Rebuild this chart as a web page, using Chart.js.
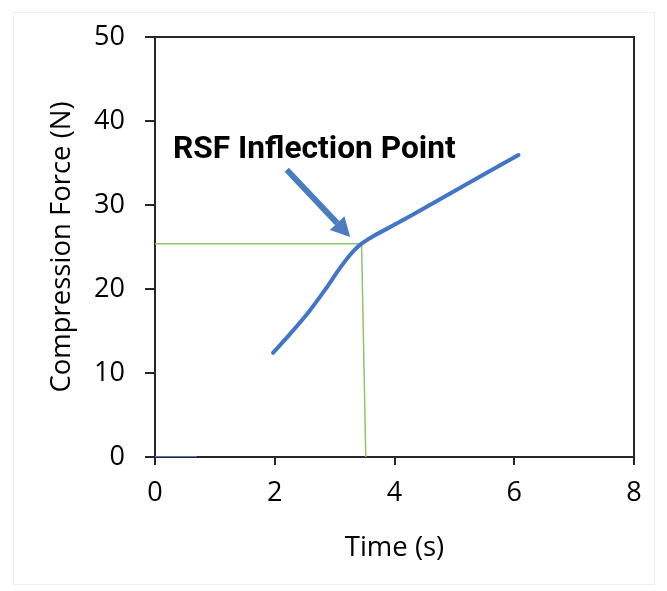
<!DOCTYPE html>
<html>
<head>
<meta charset="utf-8">
<script src="https://cdn.jsdelivr.net/npm/chart.js@4"></script>
<style>
    html, body { margin: 0; padding: 0; background: #fff; }
    #wrap { width: 667px; height: 591px; }
</style>
</head>
<body>
<div id="wrap"><canvas id="chart" width="667" height="591"></canvas></div>
<script>
/** Data */
const time = [1.97, 2.25, 2.55, 2.85, 3.1, 3.3, 3.45, 3.65, 4.09, 4.59, 5.43, 6.07];
const force = [12.4, 14.6, 17.1, 20.0, 22.6, 24.4, 25.4, 26.3, 28.0, 30.0, 33.4, 35.95];
const baseTime = [0, 0.7];
const baseForce = [0, 0];
const guideTime = [0, 3.45, 3.52];
const guideForce = [25.4, 25.4, 0];
const xTicks = [0, 2, 4, 6, 8];
const yTicks = [0, 10, 20, 30, 40, 50];
const labelText = 'RSF Inflection Point';
const labelAt = { x: 0.3, y: 35.6 };
const arrowFrom = { x: 2.2, y: 34.2 };
const arrowTo = { x: 3.26, y: 26.2 };

const toPoints = (xs, ys) => xs.map((x, i) => ({ x: x, y: ys[i] }));

/** Frame + annotation */
const extras = {
    id: 'extras',
    beforeDraw: function (chart) {
        const ctx = chart.ctx;
        ctx.save();
        ctx.strokeStyle = '#eeeeee';
        ctx.lineWidth = 1;
        ctx.strokeRect(13.5, 12.5, 641, 572);
        ctx.restore();
    },
    afterDraw: function (chart) {
        const ctx = chart.ctx;
        const a = chart.chartArea;
        const xs = chart.scales.x, ys = chart.scales.y;
        ctx.save();
        // top + right frame
        ctx.strokeStyle = '#262626';
        ctx.lineWidth = 2;
        ctx.beginPath();
        ctx.moveTo(a.left, a.top);
        ctx.lineTo(a.right, a.top);
        ctx.lineTo(a.right, a.bottom);
        ctx.stroke();

        // arrow
        const x1 = xs.getPixelForValue(arrowFrom.x), y1 = ys.getPixelForValue(arrowFrom.y);
        const x2 = xs.getPixelForValue(arrowTo.x), y2 = ys.getPixelForValue(arrowTo.y);
        const ang = Math.atan2(y2 - y1, x2 - x1);
        const headLen = 19, headW = 10;
        const bx = x2 - headLen * Math.cos(ang), by = y2 - headLen * Math.sin(ang);
        ctx.strokeStyle = '#4a7cbf';
        ctx.fillStyle = '#4a7cbf';
        ctx.lineWidth = 6;
        ctx.beginPath();
        ctx.moveTo(x1, y1);
        ctx.lineTo(bx, by);
        ctx.stroke();
        ctx.beginPath();
        ctx.moveTo(x2, y2);
        ctx.lineTo(bx + headW * Math.sin(ang), by - headW * Math.cos(ang));
        ctx.lineTo(bx - headW * Math.sin(ang), by + headW * Math.cos(ang));
        ctx.closePath();
        ctx.fill();

        // label
        ctx.fillStyle = '#000';
        ctx.font = 'bold 31.7px Roboto';
        ctx.textBaseline = 'alphabetic';
        ctx.textAlign = 'left';
        ctx.fillText(labelText, xs.getPixelForValue(labelAt.x), ys.getPixelForValue(labelAt.y));
        ctx.restore();
    }
};

const tickFont = { family: 'Open Sans', size: 27 };
const titleFont = { family: 'Open Sans', size: 27.5 };

new Chart(document.getElementById('chart'), {
    type: 'scatter',
    data: {
        datasets: [{
            data: toPoints(guideTime, guideForce),
            showLine: true,
            borderColor: '#8cc66a',
            borderWidth: 1.5,
            pointRadius: 0,
            order: 2
        }, {
            data: toPoints(baseTime, baseForce),
            showLine: true,
            borderColor: '#4a78c6',
            borderWidth: 2,
            pointRadius: 0,
            order: 1
        }, {
            data: toPoints(time, force),
            showLine: true,
            borderColor: '#4275c9',
            borderWidth: 4,
            borderCapStyle: 'round',
            tension: 0.35,
            pointRadius: 0,
            order: 0
        }]
    },
    options: {
        responsive: false,
        animation: false,
        layout: { padding: { left: 46, top: 37, right: 33, bottom: 26 } },
        plugins: { legend: { display: false }, tooltip: { enabled: false } },
        scales: {
            x: {
                type: 'linear',
                min: 0, max: 8,
                afterBuildTicks: function (s) { s.ticks = xTicks.map(v => ({ value: v })); },
                afterFit: function (s) { s.height = 108; },
                grid: { drawOnChartArea: false, tickLength: 8, color: '#262626', lineWidth: 2 },
                border: { color: '#262626', width: 2 },
                ticks: { color: '#000', font: tickFont, padding: 12, maxRotation: 0 },
                title: { display: true, text: 'Time (s)', color: '#000', font: titleFont, padding: 0 }
            },
            y: {
                type: 'linear',
                min: 0, max: 50,
                afterBuildTicks: function (s) { s.ticks = yTicks.map(v => ({ value: v })); },
                afterFit: function (s) { s.width = 109; },
                grid: { drawOnChartArea: false, tickLength: 10, color: '#262626', lineWidth: 2 },
                border: { color: '#262626', width: 2 },
                ticks: { color: '#000', font: tickFont, padding: 20 },
                title: { display: true, text: 'Compression Force (N)', color: '#000', font: titleFont, padding: 0 }
            }
        }
    },
    plugins: [extras]
});
</script>
</body>
</html>
